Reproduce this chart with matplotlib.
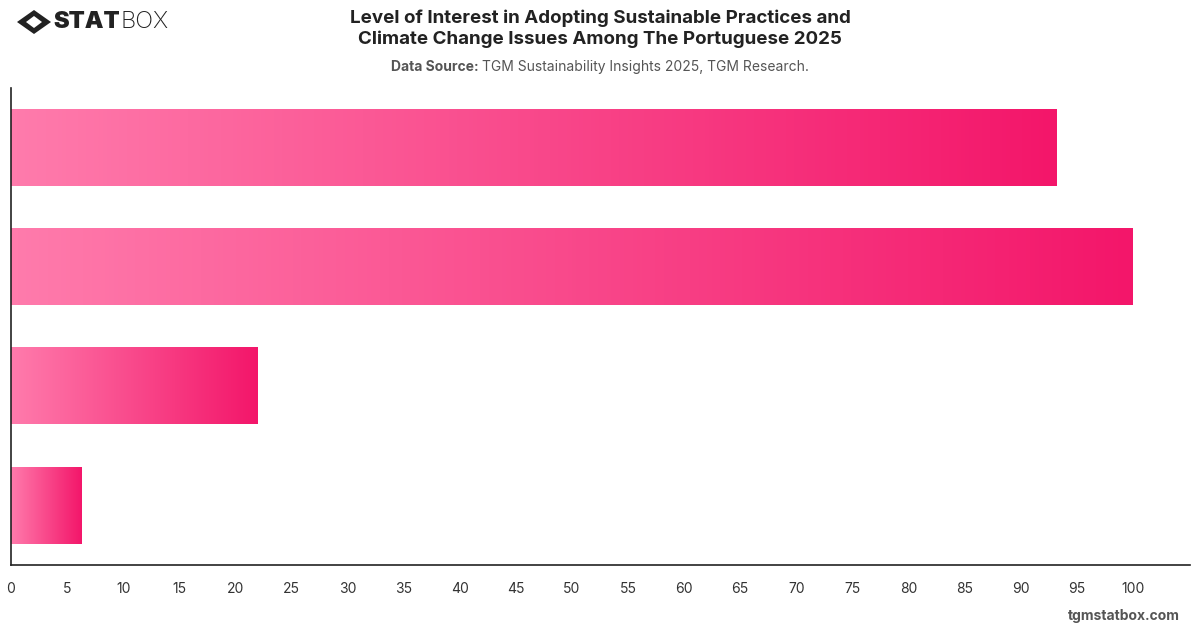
import matplotlib
matplotlib.use("Agg")
import matplotlib.pyplot as plt
from matplotlib.colors import LinearSegmentedColormap
from matplotlib.patches import Polygon
import numpy as np

plt.rcParams['font.family'] = ['Inter', 'DejaVu Sans']

# values (top bar first)
values = [93.2, 100.0, 22.0, 6.3]
x_ticks = list(range(0, 105, 5))

light = "#FF7BAC"
dark = "#F3166A"
cmap = LinearSegmentedColormap.from_list("pinkgrad", [light, dark])

W, H = 1200, 628
fig = plt.figure(figsize=(W / 100, H / 100), dpi=100)
fig.patch.set_facecolor("white")

ax_left, ax_right = 11 / W, 1190 / W
ax_bottom, ax_top = (H - 565) / H, (H - 88) / H
ax = fig.add_axes([ax_left, ax_bottom, ax_right - ax_left, ax_top - ax_bottom])

xmax = 105.1
n = len(values)
bar_h = 0.64
grad = np.linspace(0, 1, 256).reshape(1, -1)
for i, v in enumerate(values):
    yc = n - 1 - i
    ax.imshow(grad, cmap=cmap, aspect="auto", interpolation="bicubic",
              extent=[0, v, yc - bar_h / 2, yc + bar_h / 2], zorder=2)

ax.set_xlim(0, xmax)
ax.set_ylim(-0.5, n - 0.5)
ax.set_xticks(x_ticks)
ax.set_xticklabels([str(t) for t in x_ticks])
ax.set_yticks([])
ax.tick_params(axis="x", length=0, pad=12, labelsize=10, colors="#333333")
for s in ["top", "right"]:
    ax.spines[s].set_visible(False)
for s in ["left", "bottom"]:
    ax.spines[s].set_color("#222222")
    ax.spines[s].set_linewidth(1.2)

renderer = fig.canvas.get_renderer()

# title & subtitle
fig.text(600 / W, 1 - 29 / H, "Level of Interest in Adopting Sustainable Practices and\nClimate Change Issues Among The Portuguese 2025",
         ha="center", va="center", fontsize=13.5, fontweight="bold", color="#222222",
         linespacing=1.25)
sub_b = fig.text(0, 1 - 67 / H, "Data Source: ", ha="left", va="center",
                 fontsize=10, fontweight="bold", color="#555555")
sub_r = fig.text(0, 1 - 67 / H, "TGM Sustainability Insights 2025, TGM Research.",
                 ha="left", va="center", fontsize=10, color="#555555")
wb = sub_b.get_window_extent(renderer).width
wr = sub_r.get_window_extent(renderer).width
x0 = 600 - (wb + wr) / 2
sub_b.set_x(x0 / W)
sub_r.set_x((x0 + wb) / W)

# logo
lx, ly = 34, 22
diamond = Polygon([[(lx - 17) / W, 1 - ly / H], [lx / W, 1 - (ly - 12) / H],
                   [(lx + 17) / W, 1 - ly / H], [lx / W, 1 - (ly + 12) / H]],
                  closed=True, transform=fig.transFigure, facecolor="#222222")
fig.patches.append(diamond)
inner = Polygon([[(lx - 8) / W, 1 - ly / H], [lx / W, 1 - (ly - 6) / H],
                 [(lx + 8) / W, 1 - ly / H], [lx / W, 1 - (ly + 6) / H]],
                closed=True, transform=fig.transFigure, facecolor="white")
fig.patches.append(inner)
stat = fig.text(53 / W, 1 - ly / H, "STAT", ha="left", va="center", fontsize=17,
                fontweight="black", color="#222222")
ws = stat.get_window_extent(renderer).width
fig.text((53 + ws + 1) / W, 1 - ly / H, "BOX", ha="left", va="center", fontsize=17,
         fontweight="light", color="#222222")

# footer
fig.text(1180 / W, 1 - 616 / H, "tgmstatbox.com", ha="right", va="center",
         fontsize=10, fontweight="bold", color="#555555")

fig.savefig("out.png", dpi=100, facecolor="white")
